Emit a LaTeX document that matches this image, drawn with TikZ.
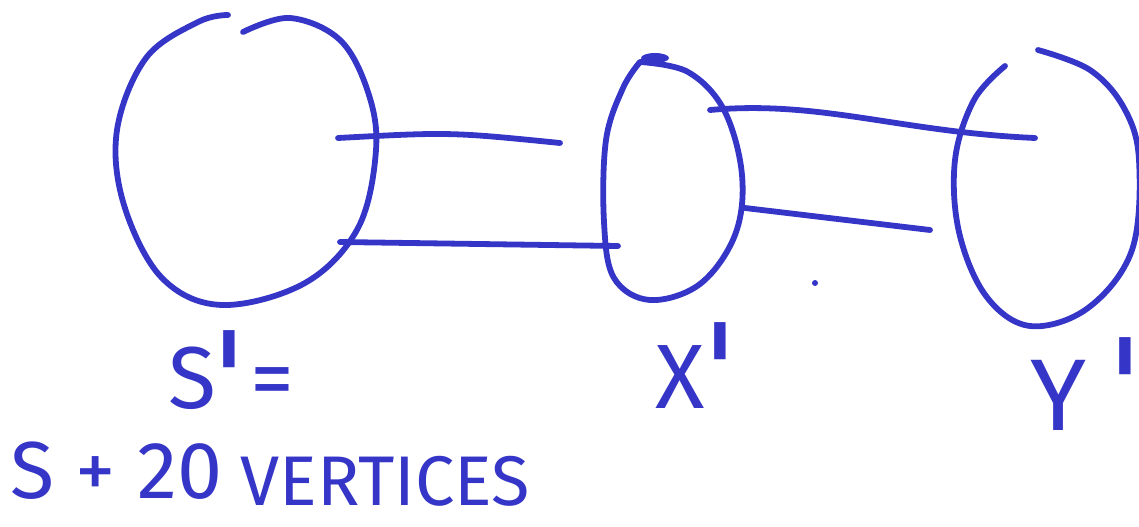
\documentclass[tikz,border=0pt]{standalone}
\usepackage{fontspec}
\setmainfont{Fira Sans}
\newfontfamily\djv{DejaVu Sans}
\definecolor{pen}{RGB}{53,53,200}
\newcommand{\pr}[1]{\raisebox{#1}{\djv\fontsize{78}{78}\selectfont\symbol{"27}}}
\begin{document}
\begin{tikzpicture}[x=0.02cm,y=-0.02cm,
  ink/.style={draw=pen,line width=3.3pt,line cap=round,line join=round},
  lbl/.style={text=pen,inner sep=0pt,anchor=base west}]
\useasboundingbox (0,0) rectangle (1139,527);
% S' blob
\draw[ink] plot[smooth,tension=0.6] coordinates {(243,32) (290,18) (340,40) (368,92) (376,150) (358,228) (305,283) (222,305) (162,278) (124,205) (117,130) (146,58) (198,22) (228,15)};
% X' blob
\draw[ink] plot[smooth,tension=0.6] coordinates {(640,62) (688,72) (724,110) (742,175) (735,235) (700,284) (650,300) (614,278) (604,222) (606,140) (623,88) (640,62)};
\fill[pen] (655,58) ellipse (14 and 5);
% Y' blob
\draw[ink] plot[smooth,tension=0.6] coordinates {(1038,50) (1090,70) (1124,108) (1139,160) (1132,250) (1088,308) (1030,326) (986,296) (959,232) (955,160) (974,100) (1005,66)};
% connectors
\coordinate (s1) at (338,138); \coordinate (x1) at (560,143);
\coordinate (s2) at (340,242); \coordinate (x2) at (618,246);
\coordinate (x3) at (710,110); \coordinate (y3) at (1035,138);
\coordinate (x4) at (745,208); \coordinate (y4) at (930,230);
\draw[ink] (s1) .. controls (450,132) .. (x1);
\draw[ink] (s2) -- (x2);
\draw[ink] (x3) .. controls (820,100) and (900,132) .. (y3);
\draw[ink] (x4) -- (y4);
\fill[pen] (815,283) circle (3);
% labels
\node[lbl,font=\fontsize{50}{52}\selectfont] (sp) at (168,408) {S\kern-3pt\pr{-13pt}\kern1pt=};
\node[lbl,font=\fontsize{46}{48}\selectfont] (sv1) at (10,498) {S + 20};
\node[lbl,font=\fontsize{40}{42}\selectfont] (sv2) at (240,505) {VERTICES};
\node[lbl,font=\fontsize{52}{54}\selectfont] (xp) at (655,408) {X\kern-2pt\pr{-8pt}};
\node[lbl,font=\fontsize{58}{60}\selectfont] (yp) at (1030,430) {Y\hspace{0.2em}\pr{-4pt}};
\end{tikzpicture}
\end{document}
